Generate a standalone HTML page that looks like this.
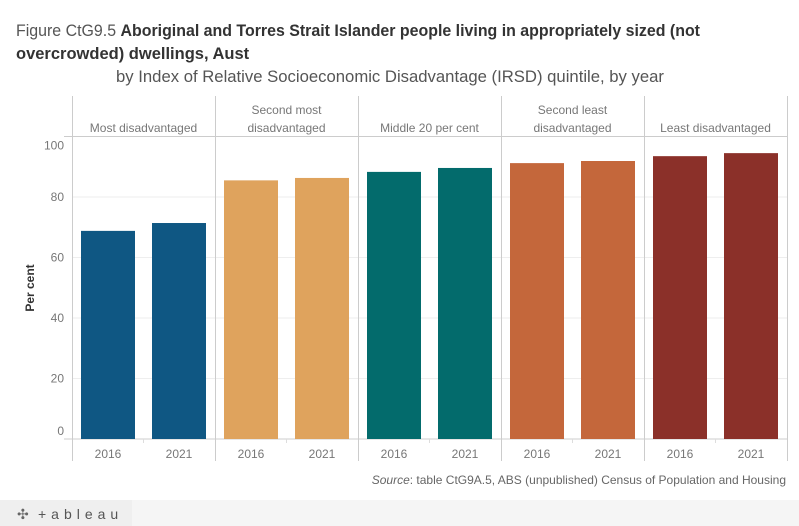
<!DOCTYPE html>
<html><head><meta charset="utf-8"><style>
html,body{margin:0;padding:0;background:#fff;}
svg{display:block;font-family:"Liberation Sans",sans-serif;}
</style></head><body>
<svg id="chart" width="799" height="526" viewBox="0 0 799 526" xmlns="http://www.w3.org/2000/svg">
<text x="16" y="36" font-size="16.5" fill="#555" textLength="684" lengthAdjust="spacingAndGlyphs">Figure CtG9.5 <tspan font-weight="bold" fill="#333">Aboriginal and Torres Strait Islander people living in appropriately sized (not</tspan></text>
<text x="16" y="59" font-size="16.5" font-weight="bold" fill="#333">overcrowded) dwellings, Aust</text>
<text x="116" y="82" font-size="16.5" fill="#555" textLength="548" lengthAdjust="spacingAndGlyphs">by Index of Relative Socioeconomic Disadvantage (IRSD) quintile, by year</text>
<text transform="translate(34,288) rotate(-90)" text-anchor="middle" font-size="12" font-weight="bold" fill="#333">Per cent</text>
<g id="plot"></g>
<text x="786" y="484" text-anchor="end" font-size="12" fill="#666"><tspan font-style="italic">Source</tspan>: table CtG9A.5, ABS (unpublished) Census of Population and Housing</text>
<rect x="0" y="500" width="799" height="26" fill="#f5f5f5"/>
<rect x="0" y="500" width="132" height="26" fill="#efefef"/>
<text x="17" y="519" font-size="14" fill="#666">✣</text>
<text x="38" y="519" font-size="14" fill="#555" letter-spacing="5">+ableau</text>
</svg>
<script>
const categories = ["Most disadvantaged","Second most disadvantaged","Middle 20 per cent","Second least disadvantaged","Least disadvantaged"];
const headerLines = [["Most disadvantaged"],["Second most","disadvantaged"],["Middle 20 per cent"],["Second least","disadvantaged"],["Least disadvantaged"]];
const years = ["2016","2021"];
const values2016 = [68.8, 85.5, 88.3, 91.2, 93.5];
const values2021 = [71.4, 86.3, 89.6, 91.9, 94.5];
const yTicks = [0,20,40,60,80,100];
const colors = ["#0f5783","#dfa35d","#036b6c","#c4673b","#8b3029"];

const NS="http://www.w3.org/2000/svg";
const g=document.getElementById("plot");
const x0=72, pw=143, yTop=136.5, yZero=439;
const y=v=>yZero-(yTop>0?(yZero-yTop)*v/100:0);
function mk(tag,attrs){const e=document.createElementNS(NS,tag);for(const k in attrs)e.setAttribute(k,attrs[k]);g.appendChild(e);return e;}
// gridlines
yTicks.forEach(t=>{
  if(t>0&&t<100){const l=mk("line",{x1:x0,x2:x0+pw*5,y1:y(t),y2:y(t),stroke:"#eee","stroke-width":1});
  
  }
  let ty=y(t)+4; if(t===0) ty=y(t)-4; if(t===100) ty=y(t)+13;
  const tx=mk("text",{x:64,y:ty,"text-anchor":"end","font-size":12,fill:"#777"});
  tx.textContent=t;
  
  
});
// header line & bottom line
let hl=mk("line",{x1:64,x2:x0+pw*5,y1:yTop,y2:yTop,stroke:"#ccc"});


let zl=mk("line",{x1:64,x2:x0+pw*5,y1:yZero,y2:yZero,stroke:"#ccc"});


categories.forEach((c,i)=>{
  const px=x0+i*pw;
  const vl=mk("line",{x1:px+0.5,x2:px+0.5,y1:96,y2:461,stroke:"#ccc"});
  
  
  const lines=headerLines[i];
  lines.forEach((ln,j)=>{
    const t=mk("text",{x:px+pw/2,y:132-(lines.length-1-j)*18,"text-anchor":"middle","font-size":12,fill:"#777"});
    t.textContent=ln;
    
    
  });
  [values2016[i],values2021[i]].forEach((v,k)=>{
    const bx=px+9+k*71;
    const r=mk("rect",{x:bx,y:y(v),width:54,height:yZero-y(v),fill:colors[i]});
    
    
    const yl=mk("text",{x:bx+27,y:458,"text-anchor":"middle","font-size":12,fill:"#777"});
    yl.textContent=years[k];
    
    
  });
  const tk=mk("line",{x1:px+pw/2,x2:px+pw/2,y1:yZero,y2:yZero+4,stroke:"#ddd"});
  
  
});
const last=mk("line",{x1:x0+pw*5+0.5,x2:x0+pw*5+0.5,y1:96,y2:461,stroke:"#ccc"});


</script>
</body></html>
